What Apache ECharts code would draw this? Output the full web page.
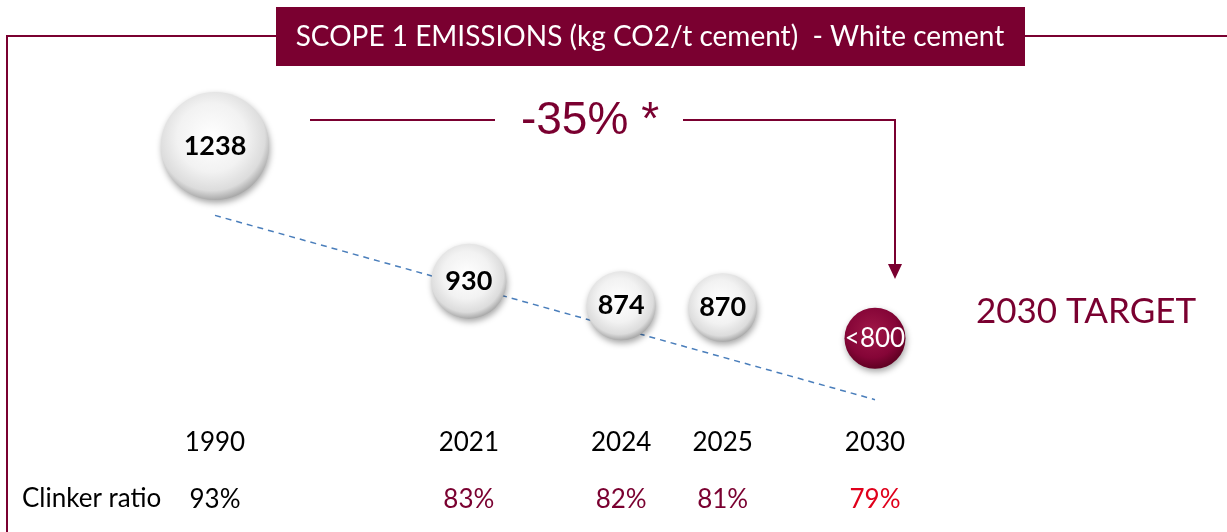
<!DOCTYPE html>
<html><head><meta charset="utf-8">
<script src="https://cdn.jsdelivr.net/npm/echarts@6/dist/echarts.min.js"></script>
<style>html,body{margin:0;padding:0;background:#fff}#c{width:1227px;height:532px}</style>
</head><body><div id="c"></div>
<script>
// ---- data ----
var years = ['1990', '2021', '2024', '2025', '2030'];
var emissions = [1238, 930, 874, 870, 800];
var bubbleLabels = ['1238', '930', '874', '870', '<800'];
var clinkerRatio = ['93%', '83%', '82%', '81%', '79%'];
var trendYears = ['1990', '2030'];
var trendValues = [1080, 660];
// spacer slots between the years on the schematic axis
var gapsBefore = [0, 4, 2, 1, 2];

var MAROON = '#7a0030';
var yearCats = [], clinkerCats = [];
years.forEach(function (y, i) {
  for (var g = 0; g < gapsBefore[i]; g++) { yearCats.push(' ' + i + '_' + g); clinkerCats.push(' ' + i + '_' + g); }
  yearCats.push(y);
  var col = i === 0 ? '#000' : (i === years.length - 1 ? '#e0001b' : MAROON);
  clinkerCats.push({ value: clinkerRatio[i], textStyle: { color: col } });
});

var chart = echarts.init(document.getElementById('c'), null, { renderer: 'canvas' });

function sizeOf(v) { return 0.1073 * v - 24.8; }

var greyBall = {
  type: 'radial', x: 0.47, y: 0.42, r: 0.58,
  colorStops: [{ offset: 0, color: '#ffffff' }, { offset: 0.55, color: '#f2f2f2' }, { offset: 0.85, color: '#dcdcdc' }, { offset: 1, color: '#a9a9a9' }]
};
var redBall = {
  type: 'radial', x: 0.45, y: 0.4, r: 0.6,
  colorStops: [{ offset: 0, color: '#a01848' }, { offset: 0.7, color: '#850537' }, { offset: 1, color: '#600022' }]
};

var scatterData = years.map(function (y, i) {
  var last = i === years.length - 1;
  return {
    value: [y, emissions[i]],
    symbolSize: sizeOf(emissions[i]),
    itemStyle: { color: last ? redBall : greyBall, opacity: 1 },
    label: last ? { color: '#fff', fontWeight: 'normal', fontSize: 26 } : {}
  };
});

var option = {
  animation: false,
  backgroundColor: '#fff',
  grid: { left: 215, right: 352, top: 75, bottom: 106, containLabel: false },
  xAxis: [{
    type: 'category', data: yearCats, boundaryGap: false,
    axisLine: { show: false }, axisTick: { show: false }, splitLine: { show: false },
    axisLabel: { interval: 0, margin: 4, fontSize: 26, color: '#000', fontFamily: 'Lato',
      formatter: function (v) { return v.charAt(0) === ' ' ? '' : v; } }
  }, {
    type: 'category', data: clinkerCats, boundaryGap: false, position: 'bottom', offset: 57,
    axisLine: { show: false }, axisTick: { show: false }, splitLine: { show: false },
    axisLabel: { interval: 0, margin: 4, fontSize: 26, fontFamily: 'Lato',
      formatter: function (v) { return v.charAt(0) === ' ' ? '' : v; } }
  }],
  yAxis: { type: 'value', min: 600, max: 1400, show: false, splitLine: { show: false } },
  series: [{
    type: 'line', xAxisIndex: 0, z: 1, symbol: 'none',
    data: trendYears.map(function (y, i) { return [y, trendValues[i]]; }),
    lineStyle: { color: '#4a7ebb', width: 1.5, type: [6, 5] }
  }, {
    type: 'scatter', xAxisIndex: 0, z: 3,
    data: scatterData,
    itemStyle: { opacity: 1, shadowBlur: 6, shadowColor: 'rgba(0,0,0,0.35)', shadowOffsetY: 3, shadowOffsetX: 1 },
    emphasis: { disabled: true },
    label: { show: true, position: 'inside', fontFamily: 'Lato', fontWeight: 'bold', fontSize: 27, color: '#000',
      formatter: function (p) { return bubbleLabels[p.dataIndex]; } }
  }],
  graphic: [
    { type: 'polyline', shape: { points: [[7, 532], [7, 36], [276, 36]] }, style: { stroke: MAROON, lineWidth: 2, fill: null } },
    { type: 'line', shape: { x1: 1025, y1: 36, x2: 1227, y2: 36 }, style: { stroke: MAROON, lineWidth: 2 } },
    { type: 'rect', shape: { x: 276, y: 7, width: 749, height: 59 }, style: { fill: MAROON } },
    { type: 'text', x: 650, y: 37, style: { text: 'SCOPE 1 EMISSIONS (kg CO2/t cement)  - White cement', fill: '#fff', font: '28px Lato', textAlign: 'center', textVerticalAlign: 'middle' } },
    { type: 'line', shape: { x1: 310, y1: 120, x2: 495, y2: 120 }, style: { stroke: MAROON, lineWidth: 2 } },
    { type: 'text', x: 590, y: 121, style: { text: '-35% *', fill: MAROON, font: '46px "Liberation Sans"', textAlign: 'center', textVerticalAlign: 'middle' } },
    { type: 'polyline', shape: { points: [[683, 120], [895, 120], [895, 268]] }, style: { stroke: MAROON, lineWidth: 2, fill: null } },
    { type: 'polygon', shape: { points: [[888, 264], [902, 264], [895, 279]] }, style: { fill: MAROON } },
    { type: 'text', x: 1086, y: 312, style: { text: '2030 TARGET', fill: MAROON, font: '35px Lato', textAlign: 'center', textVerticalAlign: 'middle' } },
    { type: 'text', x: 22, y: 499, style: { text: 'Clinker ratio', fill: '#000', font: '26px Lato', textAlign: 'left', textVerticalAlign: 'middle' } }
  ]
};
chart.setOption(option);
</script></body></html>
